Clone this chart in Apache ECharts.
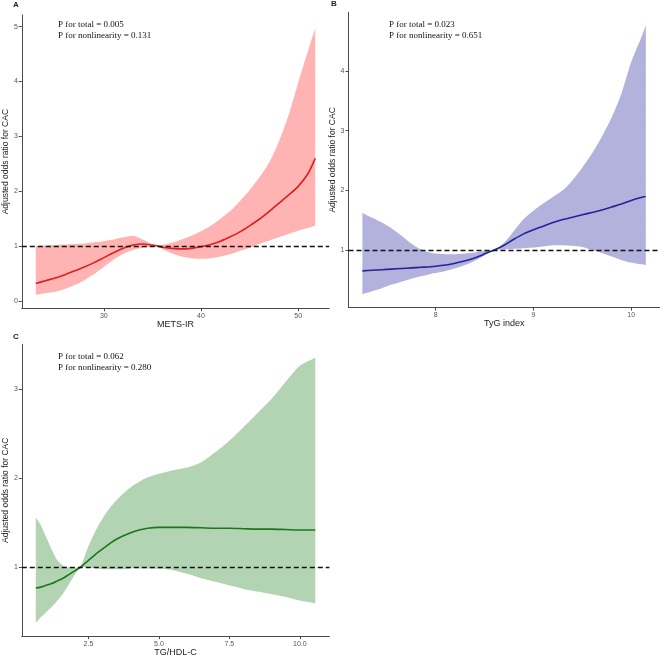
<!DOCTYPE html>
<html>
<head>
<meta charset="utf-8">
<script src="https://cdn.jsdelivr.net/npm/echarts@6/dist/echarts.min.js"></script>
<style>html,body{margin:0;padding:0;background:#fff}#c{width:660px;height:658px}</style>
</head>
<body>
<div id="c"></div>
<script>
// ---- Panel A: METS-IR ----
const xA = [23, 24, 25, 26, 27, 28, 29, 30, 31, 32, 33, 34, 35, 35.6, 36, 37, 38, 39, 40, 41, 42, 43, 44, 45, 46, 47, 48, 49, 50, 51, 51.75];
const fitA = [0.32, 0.37, 0.42, 0.48, 0.55, 0.62, 0.70, 0.79, 0.88, 0.96, 1.02, 1.04, 1.02, 1.0, 0.98, 0.96, 0.95, 0.96, 0.99, 1.03, 1.09, 1.17, 1.26, 1.37, 1.49, 1.63, 1.78, 1.93, 2.09, 2.32, 2.60];
const upA = [1.00, 1.01, 1.02, 1.03, 1.04, 1.05, 1.07, 1.09, 1.12, 1.16, 1.19, 1.12, 1.03, 1.0, 1.02, 1.06, 1.12, 1.19, 1.27, 1.37, 1.50, 1.64, 1.82, 2.02, 2.25, 2.52, 2.90, 3.38, 3.98, 4.55, 4.97];
const loA = [0.11, 0.14, 0.17, 0.22, 0.29, 0.38, 0.49, 0.62, 0.75, 0.86, 0.93, 0.97, 0.99, 1.0, 0.95, 0.87, 0.81, 0.78, 0.77, 0.78, 0.81, 0.85, 0.91, 0.97, 1.04, 1.10, 1.16, 1.22, 1.28, 1.33, 1.37];
const ticksAx = [30, 40, 50];
const ticksAy = [0, 1, 2, 3, 4, 5];

// ---- Panel B: TyG index ----
const xB = [7.25, 7.35, 7.45, 7.55, 7.65, 7.75, 7.85, 7.95, 8.05, 8.15, 8.25, 8.35, 8.45, 8.52, 8.6, 8.7, 8.8, 8.9, 9.0, 9.1, 9.2, 9.3, 9.4, 9.5, 9.6, 9.7, 9.8, 9.9, 10.0, 10.1, 10.15];
const fitB = [0.65, 0.66, 0.67, 0.68, 0.69, 0.70, 0.71, 0.72, 0.74, 0.76, 0.80, 0.84, 0.90, 0.95, 1.0, 1.08, 1.18, 1.27, 1.34, 1.40, 1.46, 1.51, 1.55, 1.59, 1.63, 1.67, 1.72, 1.77, 1.83, 1.88, 1.90];
const upB = [1.62, 1.54, 1.46, 1.36, 1.24, 1.11, 1.01, 0.955, 0.935, 0.93, 0.935, 0.95, 0.97, 0.99, 1.0, 1.12, 1.32, 1.52, 1.66, 1.78, 1.89, 2.0, 2.17, 2.38, 2.62, 2.90, 3.22, 3.62, 4.15, 4.55, 4.76];
const loB = [0.26, 0.31, 0.36, 0.42, 0.47, 0.52, 0.56, 0.60, 0.63, 0.67, 0.72, 0.78, 0.86, 0.93, 1.0, 1.01, 1.02, 1.03, 1.04, 1.06, 1.08, 1.08, 1.07, 1.05, 1.00, 0.95, 0.89, 0.83, 0.79, 0.76, 0.75];
const ticksBx = [8, 9, 10];
const ticksBy = [1, 2, 3, 4];

// ---- Panel C: TG/HDL-C ----
const xC = [0.63, 0.8, 1.0, 1.2, 1.4, 1.6, 1.8, 2.0, 2.2, 2.5, 2.8, 3.1, 3.4, 3.7, 4.0, 4.3, 4.6, 5.0, 5.5, 6.0, 6.5, 7.0, 7.5, 8.0, 8.5, 9.0, 9.5, 10.0, 10.55];
const fitC = [0.77, 0.78, 0.80, 0.82, 0.85, 0.88, 0.92, 0.96, 1.0, 1.08, 1.16, 1.23, 1.30, 1.35, 1.39, 1.42, 1.44, 1.45, 1.45, 1.45, 1.445, 1.44, 1.44, 1.435, 1.43, 1.43, 1.425, 1.42, 1.42];
const upC = [1.56, 1.48, 1.34, 1.20, 1.08, 1.02, 1.0, 1.0, 1.0, 1.24, 1.44, 1.60, 1.72, 1.82, 1.90, 1.96, 2.01, 2.05, 2.09, 2.12, 2.18, 2.29, 2.42, 2.57, 2.73, 2.89, 3.08, 3.26, 3.35];
const loC = [0.38, 0.44, 0.50, 0.56, 0.63, 0.71, 0.81, 0.91, 1.0, 1.0, 0.99, 0.98, 0.98, 0.98, 0.99, 0.99, 0.99, 0.985, 0.97, 0.93, 0.88, 0.84, 0.80, 0.76, 0.73, 0.70, 0.67, 0.63, 0.60];
const ticksCx = [2.5, 5.0, 7.5, 10.0];
const ticksCy = [1, 2, 3];

const panelLabels = ['A', 'B', 'C'];
const xNames = ['METS-IR', 'TyG index', 'TG/HDL-C'];
const yName = 'Adjusted odds ratio for CAC';
const annA = ['P for total = 0.005', 'P for nonlinearity = 0.131'];
const annB = ['P for total = 0.023', 'P for nonlinearity = 0.651'];
const annC = ['P for total = 0.062', 'P for nonlinearity = 0.280'];

const chart = echarts.init(document.getElementById('c'), null, {renderer: 'canvas'});

const axisCol = '#4a4a4a';
function xAxis(idx, min, max, ticks, name, dec) {
  return {
    type: 'value', gridIndex: idx, min: min, max: max,
    name: name, nameLocation: 'middle', nameGap: 10,
    nameTextStyle: {fontSize: 9, color: '#222', fontFamily: 'Liberation Sans'},
    axisLine: {show: true, onZero: false, lineStyle: {color: axisCol, width: 1}},
    axisTick: {show: true, customValues: ticks, length: 3, lineStyle: {color: axisCol}},
    axisLabel: {customValues: ticks, fontSize: 7, color: '#555', margin: 4, fontFamily: 'Liberation Sans',
      formatter: v => dec ? v.toFixed(1) : String(v)},
    splitLine: {show: false}
  };
}
function yAxis(idx, min, max, ticks) {
  return {
    type: 'value', gridIndex: idx, min: min, max: max,
    name: yName, nameLocation: 'middle', nameGap: 8, nameRotate: 90,
    nameTextStyle: {fontSize: 8.5, color: '#222', fontFamily: 'Liberation Sans'},
    axisLine: {show: true, onZero: false, lineStyle: {color: axisCol, width: 1}},
    axisTick: {show: true, customValues: ticks, length: 3, lineStyle: {color: axisCol}},
    axisLabel: {customValues: ticks, fontSize: 7, color: '#555', margin: 4, fontFamily: 'Liberation Sans'},
    splitLine: {show: false}
  };
}
// confidence band drawn as a smoothed polygon through the axis scales;
// corner vertices are repeated so the vertical end edges stay straight
function band(idx, xs, lo, hi, color) {
  return {
    type: 'custom', xAxisIndex: idx, yAxisIndex: idx, silent: true, clip: true, z: 1,
    data: [[xs[0], lo[0]]],
    renderItem: function (params, api) {
      const n = xs.length, pts = [];
      for (let i = 0; i < n; i++) {
        const p = api.coord([xs[i], hi[i]]);
        pts.push(p);
        if (i === 0 || i === n - 1) pts.push(p.slice());
      }
      for (let i = n - 1; i >= 0; i--) {
        const p = api.coord([xs[i], lo[i]]);
        pts.push(p);
        if (i === 0 || i === n - 1) pts.push(p.slice());
      }
      return {type: 'polygon', shape: {points: pts, smooth: 0.25, smoothConstraint: false}, style: {fill: color}};
    }
  };
}
function fitLine(idx, xs, ys, color) {
  return {
    type: 'line', xAxisIndex: idx, yAxisIndex: idx, z: 3,
    data: xs.map((x, i) => [x, ys[i]]), showSymbol: false, smooth: 0.3, silent: true,
    lineStyle: {color: color, width: 1.6},
    markLine: {
      silent: true, symbol: ['none', 'none'], label: {show: false},
      lineStyle: {type: [5, 3], color: '#111', width: 1.3},
      data: [{yAxis: 1}]
    }
  };
}
function ann(x, y, lines) {
  return {type: 'text', left: x, top: y, z: 10,
    style: {text: lines.join('\n'), font: '9px "Liberation Serif"', fill: '#111', lineHeight: 11}};
}
function lab(x, y, t) {
  return {type: 'text', left: x, top: y, z: 10,
    style: {text: t, font: 'bold 8px "Liberation Sans"', fill: '#222'}};
}

chart.setOption({
  animation: false,
  backgroundColor: '#fff',
  grid: [
    {left: 16.7, top: 15, width: 312.5, height: 293.3},
    {left: 348.5, top: 12.2, width: 311.5, height: 295.4},
    {left: 17.4, top: 344.5, width: 312, height: 293.5}
  ],
  xAxis: [
    xAxis(0, 21.56, 53.19, ticksAx, xNames[0], false),
    xAxis(1, 7.108, 10.295, ticksBx, xNames[1], false),
    xAxis(2, 0.134, 11.05, ticksCx, xNames[2], true)
  ],
  yAxis: [
    yAxis(0, -0.133, 5.213, ticksAy),
    yAxis(1, 0.035, 4.985, ticksBy),
    yAxis(2, 0.2315, 3.4985, ticksCy)
  ],
  series: [
    band(0, xA, loA, upA, '#FFB3B3'),
    fitLine(0, xA, fitA, '#DD1F1F'),
    band(1, xB, loB, upB, '#B2B2DC'),
    fitLine(1, xB, fitB, '#23239A'),
    band(2, xC, loC, upC, '#B3D4B3'),
    fitLine(2, xC, fitC, '#1B771B')
  ],
  graphic: [
    lab(13, 1, panelLabels[0]), lab(331, 0, panelLabels[1]), lab(13, 333, panelLabels[2]),
    ann(58, 19.5, annA), ann(389, 19.5, annB), ann(58, 351, annC)
  ]
});
</script>
</body>
</html>
